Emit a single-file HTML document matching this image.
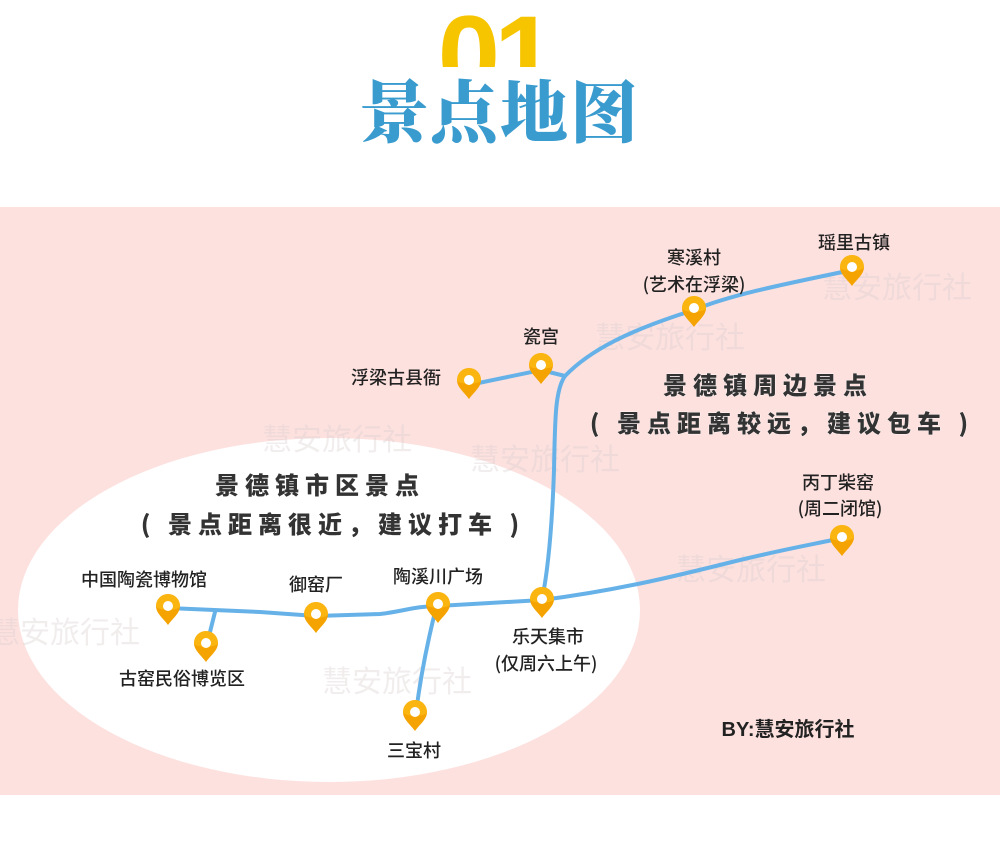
<!DOCTYPE html>
<html><head><meta charset="utf-8"><style>
body{margin:0;width:1000px;height:854px;background:#fff;overflow:hidden;font-family:"Liberation Sans","Noto Sans CJK SC",sans-serif;}
</style></head><body>
<svg width="1000" height="854" xmlns="http://www.w3.org/2000/svg" style="position:absolute;left:0;top:0">
<defs>
<g id="pin"><path d="M0,16 C-6,8 -12,4 -12,-3 A12,12 0 1 1 12,-3 C12,4 6,8 0,16 Z" fill="#f5a300"/><path d="M-12,-3 A12,12 0 0 1 12,-3 C12,2 -12,2 -12,-3Z" fill="#ffc21a" opacity=".6"/><circle cx="0" cy="-3" r="5" fill="#fff"/></g>
<clipPath id="c01"><rect x="0" y="0" width="1000" height="67"/></clipPath>
</defs>
<rect x="0" y="207" width="1000" height="588" fill="#fde1df"/>
<ellipse cx="329" cy="610" rx="311" ry="172" fill="#fff"/>
<g font-family="Liberation Sans,Noto Sans CJK SC,sans-serif" font-size="30" fill="#d8cece" opacity=".35">
<text x="822" y="298">慧安旅行社</text><text x="595" y="348">慧安旅行社</text>
<text x="262" y="450">慧安旅行社</text><text x="470" y="470">慧安旅行社</text>
<text x="676" y="580">慧安旅行社</text><text x="-10" y="643">慧安旅行社</text>
<text x="322" y="692">慧安旅行社</text>
</g>
<text x="494" y="94" text-anchor="middle" font-family="Liberation Sans,sans-serif" font-weight="bold" font-size="112" fill="#f7c500" letter-spacing="-6" clip-path="url(#c01)">01</text>
<text x="500" y="137" text-anchor="middle" font-family="Noto Serif CJK SC,serif" font-weight="900" font-size="68" fill="#3a9bcf" letter-spacing="2">景点地图</text>
<g fill="none" stroke="#66b2e8" stroke-width="4" stroke-linecap="round">
<path d="M852,270 C780,285 730,295 694,310 C630,330 590,350 565,376 C555,390 555,420 554,470 C552,530 548,570 542,600"/>
<path d="M469,385 L541,370 L565,376"/>
<path d="M542,600 C620,590 680,575 740,560 C790,548 820,543 842,538"/>
<path d="M168,608 L260,612 L316,616 L380,614 C400,612 415,606 438,606 L542,600"/>
<path d="M215,612 L207,644"/>
<path d="M436,608 C428,640 420,680 416,713"/>
</g>
<use href="#pin" x="852" y="270"/><use href="#pin" x="694" y="311"/>
<use href="#pin" x="541" y="368"/><use href="#pin" x="469" y="383"/>
<use href="#pin" x="842" y="540"/><use href="#pin" x="542" y="602"/>
<use href="#pin" x="438" y="607"/><use href="#pin" x="316" y="617"/>
<use href="#pin" x="168" y="609"/><use href="#pin" x="206" y="646"/>
<use href="#pin" x="415" y="715"/>
<g font-size="18" fill="#222" text-anchor="middle" font-weight="500" font-family="Noto Sans CJK SC,sans-serif">
<text x="854" y="249">瑶里古镇</text>
<text x="694" y="264">寒溪村</text><text x="694" y="291">(艺术在浮梁)</text>
<text x="541" y="343">瓷宫</text>
<text x="396" y="384">浮梁古县衙</text>
<text x="838" y="489">丙丁柴窑</text><text x="840" y="515">(周二闭馆)</text>
<text x="144" y="586">中国陶瓷博物馆</text>
<text x="316" y="591">御窑厂</text>
<text x="438" y="583">陶溪川广场</text>
<text x="548" y="643">乐天集市</text><text x="546" y="670">(仅周六上午)</text>
<text x="182" y="685">古窑民俗博览区</text>
<text x="414" y="757">三宝村</text>
</g>
<text x="788" y="736" text-anchor="middle" font-size="20" font-weight="bold" fill="#222" font-family="Liberation Sans,Noto Sans CJK SC,sans-serif">BY:慧安旅行社</text>
<g font-size="24" font-weight="900" fill="#333" stroke="#fff" stroke-width="0.6" text-anchor="middle" font-family="Noto Sans CJK SC,sans-serif" letter-spacing="6" style="paint-order:stroke">
<text x="768" y="394">景德镇周边景点</text>
<text x="782" y="432">( 景点距离较远，建议包车 )</text>
<text x="320" y="494">景德镇市区景点</text>
<text x="333" y="533">( 景点距离很近，建议打车 )</text>
</g>
</svg>
</body></html>
